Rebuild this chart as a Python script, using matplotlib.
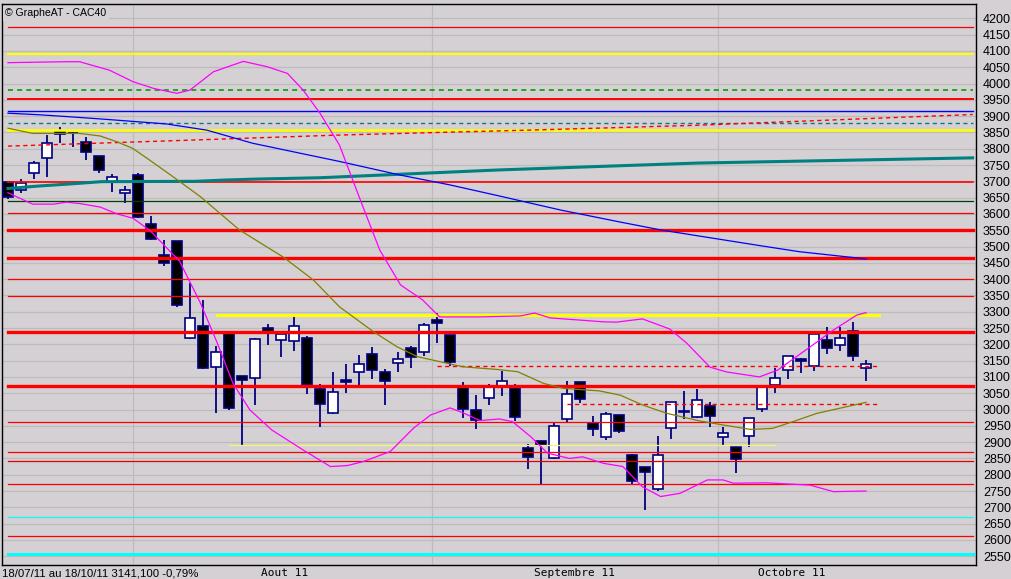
import matplotlib
matplotlib.use("Agg")
import matplotlib.pyplot as plt
import numpy as np

# ---------------- data ----------------
opens = [3698, 3672, 3725, 3771, 3854, 3849, 3820, 3778, 3699, 3663,
         3718, 3568, 3473, 3516, 3218, 3256, 3131, 3234, 3102, 3096,
         3249, 3214, 3211, 3218, 3062, 2988, 3090, 3114, 3169, 3114,
         3142, 3188, 3177, 3274, 3229, 3072, 2998, 3036, 3073, 3065,
         2881, 2903, 2850, 2970, 3083, 2959, 2917, 2983, 2859, 2823,
         2755, 2942, 2995, 2978, 3011, 2915, 2884, 2920, 3001, 3075,
         3120, 3154, 3134, 3213, 3199, 3242, 3126]
highs = [3700, 3706, 3762, 3842, 3867, 3850, 3835, 3779, 3722, 3686,
         3725, 3594, 3520, 3517, 3387, 3336, 3195, 3235, 3103, 3218,
         3262, 3233, 3287, 3225, 3078, 3116, 3140, 3167, 3191, 3124,
         3176, 3195, 3264, 3297, 3230, 3085, 3044, 3078, 3119, 3078,
         2894, 2904, 2959, 3087, 3085, 2980, 2991, 2984, 2864, 2824,
         2919, 3023, 3057, 3062, 3023, 2947, 2885, 2974, 3075, 3126,
         3165, 3157, 3239, 3252, 3252, 3268, 3152]
lows = [3645, 3665, 3707, 3712, 3818, 3806, 3765, 3727, 3668, 3633,
        3588, 3521, 3441, 3315, 3217, 3125, 2988, 2998, 2891, 3014,
        3198, 3162, 3180, 3048, 2947, 2987, 3052, 3075, 3094, 3014,
        3116, 3127, 3165, 3205, 3134, 2975, 2941, 3014, 3041, 2966,
        2817, 2771, 2849, 2963, 3019, 2920, 2906, 2929, 2771, 2692,
        2751, 2910, 2970, 2973, 2947, 2891, 2806, 2886, 2993, 3052,
        3094, 3113, 3119, 3169, 3180, 3149, 3088]
closes = [3651, 3696, 3755, 3817, 3844, 3847, 3789, 3734, 3712, 3673,
          3590, 3522, 3448, 3320, 3280, 3126, 3175, 3004, 3090, 3215,
          3239, 3232, 3256, 3075, 3016, 3053, 3083, 3139, 3120, 3087,
          3154, 3160, 3258, 3266, 3146, 3001, 2968, 3072, 3087, 2976,
          2855, 2892, 2949, 3047, 3031, 2939, 2986, 2935, 2782, 2809,
          2859, 3022, 2991, 3029, 2981, 2927, 2849, 2973, 3072, 3096,
          3164, 3150, 3232, 3188, 3218, 3165, 3141]

# Bollinger upper band (index, value)
upper_idx = [0, 4.5, 5.5, 7.8, 9.6, 11.2, 13, 14, 15.8, 18.1, 19.9, 21.5, 22.7,
             24, 25.5, 27.1, 28.6, 30.2, 31.9, 33.2, 36.3, 39.4, 40.5, 41.7,
             45.8, 46.8, 48.8, 50.9, 52.2, 54, 55.3, 57.8, 59.2, 61.7, 63.5,
             65.3, 66]
upper_val = [4064, 4067, 4067, 4041, 4006, 3985, 3970, 3980, 4036, 4068, 4052,
             4031, 3980, 3909, 3811, 3643, 3489, 3382, 3336, 3284, 3284, 3287,
             3296, 3281, 3269, 3268, 3278, 3247, 3204, 3130, 3115, 3100, 3121,
             3192, 3244, 3290, 3297]
# Bollinger lower band
lower_idx = [0, 1.9, 3.5, 4.5, 5.5, 7.1, 8.4, 9.6, 10.9, 13.2, 14.8, 16.1,
             17.3, 18.6, 20.3, 22.7, 24.8, 26.1, 27.3, 29.4, 31.2, 32.5, 34,
             35, 36.3, 37.8, 38.8, 40.2, 41.5, 43.2, 44.2, 45.8, 47.3, 48.8,
             50.2, 51.7, 53.8, 55, 55.8, 58.4, 61.7, 63.5, 66]
lower_val = [3665, 3630, 3630, 3636, 3632, 3621, 3600, 3587, 3550, 3455, 3327,
             3204, 3081, 2999, 2937, 2876, 2825, 2828, 2840, 2871, 2943, 2983,
             3005, 2990, 2966, 2971, 2963, 2917, 2866, 2850, 2855, 2835, 2825,
             2763, 2733, 2743, 2784, 2784, 2774, 2775, 2768, 2748, 2750]
# middle moving average (olive)
mid_idx = [0, 1.9, 5.5, 7.1, 8.4, 9.6, 10.9, 12.7, 14.8, 17.8, 21.2, 23.5,
           25.5, 28.1, 29.9, 31.5, 33.2, 35, 37.6, 39.2, 41.2, 42.7, 45.5,
           47.1, 48.8, 50.7, 53.2, 54.5, 57.1, 58.8, 60.4, 62.2, 64, 66]
mid_val = [3863, 3847, 3847, 3839, 3821, 3801, 3765, 3714, 3653, 3551, 3467,
           3397, 3315, 3239, 3193, 3162, 3147, 3131, 3123, 3116, 3080, 3065,
           3057, 3044, 3014, 2988, 2965, 2956, 2939, 2942, 2963, 2988, 3004,
           3022]
# long moving average (blue)
blue_idx = [0, 2.5, 5.5, 7.6, 12.2, 15.3, 18.8, 22.5, 25.5, 30.2, 34, 37.8,
            42.5, 47.1, 50.2, 53.2, 57.8, 60.9, 66]
blue_val = [3909, 3904, 3896, 3890, 3876, 3857, 3817, 3786, 3761, 3719, 3689,
            3655, 3612, 3575, 3551, 3532, 3503, 3484, 3462]
# very long moving average (teal)
teal_idx = [0, 2.5, 4.8, 7.2, 14.4, 16.7, 19.2, 24, 37.8, 53, 74.2]
teal_val = [3678, 3686, 3692, 3699, 3700, 3704, 3707, 3711, 3735, 3756, 3772]
# red dashed rising line
rdash_idx = [0, 13, 25.5, 40, 53, 74.2]
rdash_val = [3808, 3825, 3842, 3857, 3872, 3905]

# full-width horizontal levels
level_vals = [4172, 4090, 3979, 3953, 3916, 3878, 3856, 3697, 3639, 3603,
              3552, 3466, 3400, 3348, 3237, 3073, 2961, 2869, 2841, 2772,
              2669, 2611, 2557]
level_cols = ['#ff0000', '#ffff00', '#00a000', '#ff0000', '#0000ff', '#008080',
              '#ffff00', '#ff0000', '#004000', '#ff0000', '#ff0000', '#ff0000',
              '#ff0000', '#ff0000', '#ff0000', '#ff0000', '#ff0000', '#ff0000',
              '#e00000', '#ff0000', '#00ffff', '#ff0000', '#00ffff']
level_lw = [0.9, 1.5, 1.2, 1.4, 1.0, 1.0, 1.8, 1.2, 0.9, 0.9,
            2.4, 2.4, 0.9, 0.9, 2.4, 2.4, 0.9, 0.9, 0.9, 0.9,
            0.9, 0.9, 2.2]
level_ls = ['-', '-', '--', '-', '-', '--', '-', '-', '-', '-',
            '-', '-', '-', '-', '-', '-', '-', '-', '-', '-',
            '-', '-', '-']
# partial horizontal levels
part_vals = [3290, 3133, 3016, 2890]
part_start = [16.1, 33, 43, 17]
part_end = [67, 67, 67, 59]
part_cols = ['#ffff00', '#ff0000', '#ff0000', '#f4f470']
part_lw = [2.2, 1.0, 1.0, 0.9]
part_ls = ['-', '--', '--', '-']

yticks = list(range(2550, 4201, 50))
month_lines = [9.6, 32.6, 54.6]
month_labels = ['Aout 11', 'Septembre 11', 'Octobre 11']
month_label_pos = [21.3, 43.6, 60.3]
info_text = '18/07/11 au 18/10/11 3141,100 -0,79%'

# ---------------- figure ----------------
BG = '#d4d0d4'
fig = plt.figure(figsize=(10.12, 5.79), dpi=100, facecolor=BG)
W, H = 1012, 579
ax = fig.add_axes([2 / W, 1 - 565 / H, 974 / W, 561 / H])
ax.set_facecolor(BG)
ax.set_xlim(-0.46, 74.46)
ax.set_ylim(2523, 4244)

for y in yticks:
    ax.axhline(y, color='#bdbcbd', lw=0.9, zorder=0)
for m in month_lines:
    ax.axvline(m, color='#bdbcbd', lw=0.9, zorder=0)

# candles
n = len(opens)
idx = np.arange(n)
o = np.array(opens, float)
c = np.array(closes, float)
h = np.array(highs, float)
l = np.array(lows, float)
ax.vlines(idx, l, h, color='#000080', lw=1.3, zorder=2)
bottoms = np.minimum(o, c)
heights = np.maximum(np.abs(c - o), 2)
fills = ['white' if cc > oo else 'black' for oo, cc in zip(o, c)]
ax.bar(idx, heights, bottom=bottoms, width=0.72, color=fills,
       edgecolor='#000080', linewidth=1.2, zorder=3)

# level lines
for v, col, lw, ls in zip(level_vals, level_cols, level_lw, level_ls):
    if ls == '--':
        ax.plot([0, 74.2], [v, v], color=col, lw=lw, dashes=(3, 2.5), zorder=4)
    else:
        ax.plot([0, 74.2], [v, v], color=col, lw=lw, zorder=4)
for v, s, e, col, lw, ls in zip(part_vals, part_start, part_end, part_cols,
                                part_lw, part_ls):
    if ls == '--':
        ax.plot([s, e], [v, v], color=col, lw=lw, dashes=(3, 2.5), zorder=4)
    else:
        ax.plot([s, e], [v, v], color=col, lw=lw, zorder=4)

# indicator lines
ax.plot(teal_idx, teal_val, color='#008080', lw=2.2, zorder=4)
ax.plot(rdash_idx, rdash_val, color='#ff0000', lw=1.0, dashes=(3, 2.5), zorder=4)
ax.plot(blue_idx, blue_val, color='#0000ff', lw=0.9, zorder=5)
ax.plot(mid_idx, mid_val, color='#808000', lw=0.9, zorder=5)
ax.plot(upper_idx, upper_val, color='#ff00ff', lw=0.9, zorder=5)
ax.plot(lower_idx, lower_val, color='#ff00ff', lw=0.9, zorder=5)

# axes styling
ax.set_xticks([])
ax.yaxis.tick_right()
ax.set_yticks(yticks)
ax.set_yticklabels([str(v) for v in yticks], family='Liberation Sans',
                   fontsize=9, color='black')
ax.tick_params(axis='y', length=0, pad=5)
for s in ax.spines.values():
    s.set_color('black')
    s.set_linewidth(1.0)

# title box
ax.text(0.0035, 0.992, '\u00a9 GrapheAT - CAC40', transform=ax.transAxes,
        ha='left', va='top', fontsize=7.6, family='Liberation Sans',
        bbox=dict(facecolor=BG, edgecolor='none', pad=1.5), zorder=10)

# bottom texts
fig.text(2 / W, 1 - 573 / H, info_text, ha='left', va='center', fontsize=8.2,
         family='Liberation Sans')
for lab, pos in zip(month_labels, month_label_pos):
    xf = ax.transData.transform((pos, 0))[0] / fig.dpi / 10.12
    fig.text(xf, 1 - 573 / H, lab, ha='center', va='center', fontsize=8,
             family='DejaVu Sans Mono')

fig.savefig('out.png', dpi=100, facecolor=BG)
